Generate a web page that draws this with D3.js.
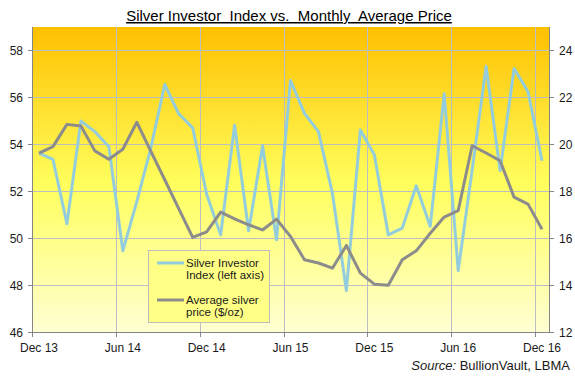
<!DOCTYPE html>
<html><head><meta charset="utf-8">
<script src="https://cdn.jsdelivr.net/npm/d3@7"></script>
<style>
html,body{margin:0;padding:0;background:#fff;}
svg{display:block;font-family:"Liberation Sans",Arial,sans-serif;}
</style></head>
<body><svg id="c" width="575" height="379"></svg>
<script>
const months = ["Dec 13","Jan 14","Feb 14","Mar 14","Apr 14","May 14","Jun 14","Jul 14","Aug 14","Sep 14","Oct 14","Nov 14",
"Dec 14","Jan 15","Feb 15","Mar 15","Apr 15","May 15","Jun 15","Jul 15","Aug 15","Sep 15","Oct 15","Nov 15",
"Dec 15","Jan 16","Feb 16","Mar 16","Apr 16","May 16","Jun 16","Jul 16","Aug 16","Sep 16","Oct 16","Nov 16","Dec 16"];
const investorIndex = [53.62,53.36,50.61,54.99,54.54,53.9,49.46,51.56,53.83,56.55,55.3,54.7,
51.87,50.14,54.81,50.31,53.93,49.93,56.72,55.32,54.54,51.91,47.77,54.61,
53.55,50.14,50.43,52.23,50.5,56.15,48.62,52.9,57.33,52.88,57.23,56.24,53.3];
const avgPrice = [19.62,19.9,20.85,20.78,19.72,19.36,19.79,20.94,19.71,18.49,17.26,16.03,
16.27,17.11,16.82,16.57,16.35,16.81,16.07,15.08,14.94,14.72,15.69,14.51,
14.04,13.99,15.08,15.46,16.21,16.9,17.17,19.94,19.63,19.3,17.75,17.45,16.38];
const xTickLabels = ["Dec 13","Jun 14","Dec 14","Jun 15","Dec 15","Jun 16","Dec 16"];
const leftTicks = [46,48,50,52,54,56,58];
const rightTicks = [12,14,16,18,20,22,24];
const leftDomain = [46,59];
const rightDomain = [12,25];
const legendLabels = [["Silver Investor","Index (left axis)"],["Average silver","price ($/oz)"]];
const titleText = "Silver Investor  Index vs.  Monthly  Average Price";

const L=32, R=549, T=27, B=332;
const svg = d3.select("#c");
const x = d3.scaleBand().domain(months).range([L,R]).padding(0);
const yL = d3.scaleLinear().domain(leftDomain).range([B,T]);
const yR = d3.scaleLinear().domain(rightDomain).range([B,T]);
const cx = m => x(m) + x.bandwidth()/2;

// gradient
const defs = svg.append("defs");
const g = defs.append("linearGradient").attr("id","bg").attr("x1",0).attr("y1",0).attr("x2",0).attr("y2",1);
g.append("stop").attr("offset","0%").attr("stop-color","#FFC000");
g.append("stop").attr("offset","52%").attr("stop-color","#FFFF5E");
g.append("stop").attr("offset","100%").attr("stop-color","#FFFFD2");
svg.append("rect").attr("x",L).attr("y",T).attr("width",R-L).attr("height",B-T).attr("fill","url(#bg)");

// gridlines
const grid = svg.append("g").attr("stroke","#BDBDC4").attr("stroke-width",1);
leftTicks.forEach(t=>{ if(t>leftDomain[0]) grid.append("line").attr("x1",L).attr("x2",R).attr("y1",Math.round(yL(t))+0.5).attr("y2",Math.round(yL(t))+0.5); });
xTickLabels.forEach(lab=>{ const xx=Math.round(x(lab))+0.5; if(xx>L+1) grid.append("line").attr("x1",xx).attr("x2",xx).attr("y1",T).attr("y2",B); });

// axes
const axisColor="#858585";
const ax = svg.append("g").attr("stroke",axisColor).attr("stroke-width",1);
ax.append("line").attr("x1",L+0.5).attr("x2",L+0.5).attr("y1",T).attr("y2",B+4);
ax.append("line").attr("x1",R+0.5).attr("x2",R+0.5).attr("y1",T).attr("y2",B);
ax.append("line").attr("x1",L).attr("x2",R+1).attr("y1",B+0.5).attr("y2",B+0.5);
leftTicks.forEach(t=>ax.append("line").attr("x1",L-4).attr("x2",L).attr("y1",Math.round(yL(t))+0.5).attr("y2",Math.round(yL(t))+0.5));
rightTicks.forEach(t=>ax.append("line").attr("x1",R).attr("x2",R+5).attr("y1",Math.round(yR(t))+0.5).attr("y2",Math.round(yR(t))+0.5));
xTickLabels.forEach(lab=>{ const xx=Math.round(x(lab))+0.5; ax.append("line").attr("x1",xx).attr("x2",xx).attr("y1",B).attr("y2",B+5); });

const tf = "12px";
svg.append("g").selectAll("text").data(leftTicks).join("text")
  .attr("x",23).attr("y",d=>yL(d)+4.5).attr("text-anchor","end").attr("font-size",tf).attr("fill","#1a1a1a").text(d=>d);
svg.append("g").selectAll("text").data(rightTicks).join("text")
  .attr("x",559).attr("y",d=>yR(d)+4.5).attr("text-anchor","start").attr("font-size",tf).attr("fill","#1a1a1a").text(d=>d);
svg.append("g").selectAll("text").data(xTickLabels).join("text")
  .attr("x",d=>cx(d)).attr("y",352).attr("text-anchor","middle").attr("font-size",tf).attr("fill","#1a1a1a").text(d=>d);

// lines
const lineL = d3.line().x((d,i)=>cx(months[i])).y(d=>yL(d));
const lineR = d3.line().x((d,i)=>cx(months[i])).y(d=>yR(d));
const blue="#93CDDD", gray="#8C8C8C";
svg.append("path").datum(investorIndex).attr("d",lineL).attr("fill","none").attr("stroke",blue).attr("stroke-width",3).attr("stroke-linejoin","round");
svg.append("path").datum(avgPrice).attr("d",lineR).attr("fill","none").attr("stroke",gray).attr("stroke-width",3).attr("stroke-linejoin","round");

// legend
const lg = svg.append("g");
lg.append("rect").attr("x",148.5).attr("y",250.5).attr("width",121).attr("height",72).attr("fill","#FFFF85").attr("stroke","#BDBDBD");
[[blue,263],[gray,300]].forEach(([c,yy],k)=>{
  lg.append("line").attr("x1",157).attr("x2",184).attr("y1",yy).attr("y2",yy).attr("stroke",c).attr("stroke-width",3);
  lg.append("text").attr("x",186).attr("y",yy+4).attr("font-size","11.5px").attr("fill","#1a1a1a").text(legendLabels[k][0]);
  lg.append("text").attr("x",186).attr("y",yy+16).attr("font-size","11.5px").attr("fill","#1a1a1a").text(legendLabels[k][1]);
});

// title
svg.append("text").attr("x",289).attr("y",21).attr("text-anchor","middle").attr("font-size","15px")
  .attr("fill","#000").attr("text-decoration","underline").style("white-space","pre").text(titleText);

// source
const st = svg.append("text").attr("x",570).attr("y",370).attr("text-anchor","end").attr("font-size","13px").attr("fill","#1a1a1a");
st.append("tspan").attr("font-style","italic").text("Source:");
st.append("tspan").text(" BullionVault, LBMA");
</script></body></html>
